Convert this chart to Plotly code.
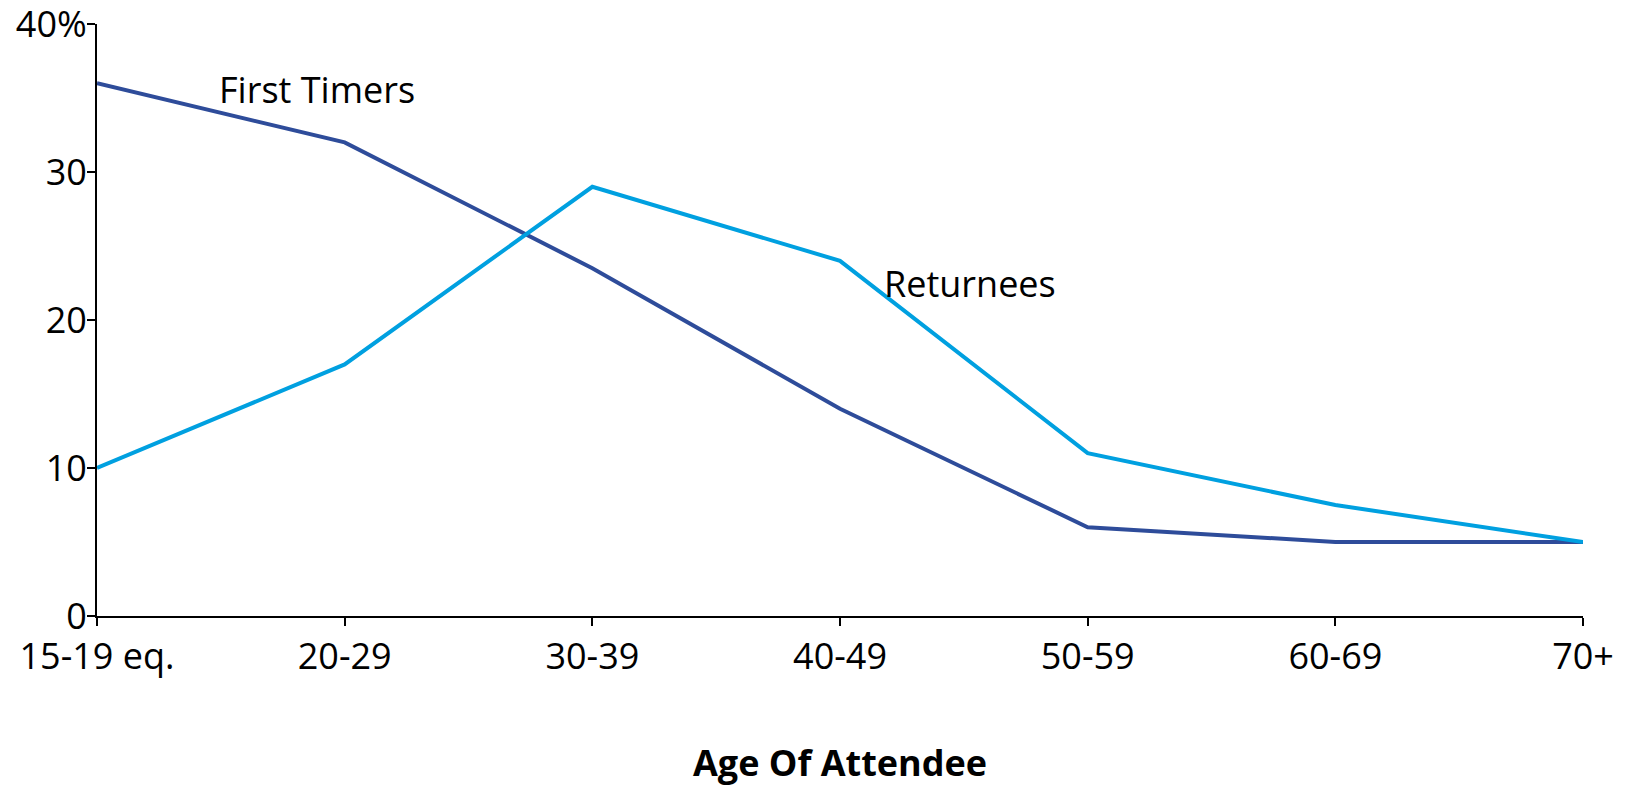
import plotly.graph_objects as go

categories = ["15-19 eq.", "20-29", "30-39", "40-49", "50-59", "60-69", "70+"]
first_timers = [36, 32, 23.5, 14, 6, 5, 5]
returnees = [10, 17, 29, 24, 11, 7.5, 5]
y_tickvals = [0, 10, 20, 30, 40]
y_ticktext = ["0", "10", "20", "30", "40%"]

FONT = "Open Sans"
FS = 36
fig = go.Figure()
fig.add_trace(go.Scatter(x=list(range(len(categories))), y=first_timers, mode="lines",
                         line=dict(color="#2E4C9A", width=4), name="First Timers"))
fig.add_trace(go.Scatter(x=list(range(len(categories))), y=returnees, mode="lines",
                         line=dict(color="#00A0E0", width=4), name="Returnees"))

fig.update_layout(
    width=1622, height=778,
    margin=dict(l=89, r=47, t=16, b=170),
    plot_bgcolor="white", paper_bgcolor="white",
    showlegend=False,
    font=dict(family=FONT, size=FS, color="black"),
    xaxis=dict(range=[0, 6], tickvals=list(range(len(categories))), ticktext=categories,
               showline=True, linecolor="black", linewidth=2, ticks="outside",
               ticklen=8, tickwidth=2, tickcolor="black", showgrid=False, zeroline=False,
               automargin=False, ticklabeloverflow="allow",
               tickfont=dict(family=FONT, size=FS)),
    yaxis=dict(range=[0, 40], tickvals=y_tickvals, ticktext=y_ticktext,
               showline=True, linecolor="black", linewidth=2, ticks="outside",
               ticklen=8, tickwidth=2, tickcolor="black", showgrid=False, zeroline=False,
               automargin=False, ticklabeloverflow="allow", ticklabelstandoff=-7,
               tickfont=dict(family=FONT, size=FS)),
    annotations=[
        dict(text="First Timers", x=0.888, y=35.6, xref="x", yref="y", showarrow=False,
             font=dict(family=FONT, size=FS)),
        dict(text="Returnees", x=3.525, y=22.47, xref="x", yref="y", showarrow=False,
             font=dict(family=FONT, size=FS)),
        dict(text="<b>Age Of Attendee</b>", x=0.5, y=-0.248, xref="paper", yref="paper",
             showarrow=False, yanchor="middle", font=dict(family=FONT, size=FS)),
    ],
)
fig.write_html("out.html")
